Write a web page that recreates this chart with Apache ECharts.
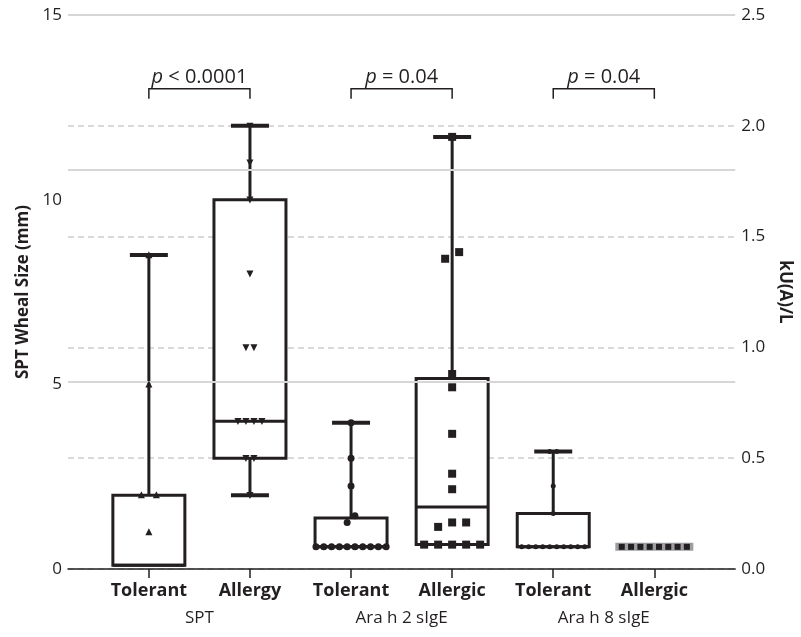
<!DOCTYPE html>
<html lang="en">
<head>
<meta charset="UTF-8">
<title>SPT and sIgE</title>
<script src="https://cdn.jsdelivr.net/npm/echarts@6.0.0/dist/echarts.min.js"></script>
<style>html, body { margin: 0; padding: 0; background: #fff; }</style>
</head>
<body>
<div id="main" style="width:801px;height:637px"></div>
<script>
var categories = ['Tolerant', 'Allergy', 'Tolerant', 'Allergic', 'Tolerant', 'Allergic'];
var groupNames = ['SPT', 'Ara h 2 sIgE', 'Ara h 8 sIgE'];
var pTexts = ['< 0.0001', '= 0.04', '= 0.04'];

// box stats: [min, Q1, median, Q3, max]
var sptTolerantBox = [0.1, 0.1, 0.1, 2, 8.5];
var sptAllergyBox = [2, 3, 4, 10, 12];
var ara2TolerantBox = [0.1, 0.1, 0.1, 0.23, 0.66];
var ara2AllergicBox = [0.11, 0.11, 0.28, 0.86, 1.95];
var ara8TolerantBox = [0.1, 0.1, 0.1, 0.25, 0.53];
var ara8AllergicBox = [0.1, 0.1, 0.1, 0.1, 0.1];

// individual values
var sptTolerantPts = [8.5, 5, 2, 2, 1];
var sptAllergyPts = [12, 11, 10, 8, 6, 6, 4, 4, 4, 4, 3, 3, 2];
var ara2TolerantPts = [0.66, 0.5, 0.375, 0.24, 0.21, 0.1, 0.1, 0.1, 0.1, 0.1, 0.1, 0.1, 0.1, 0.1, 0.1];
var ara2AllergicPts = [1.95, 1.43, 1.4, 0.88, 0.82, 0.61, 0.43, 0.36, 0.21, 0.21, 0.19, 0.11, 0.11, 0.11, 0.11, 0.11];
var ara8TolerantPts = [0.53, 0.53, 0.375, 0.25, 0.1, 0.1, 0.1, 0.1, 0.1, 0.1, 0.1, 0.1, 0.1, 0.1];
var ara8AllergicPts = [0.1, 0.1, 0.1, 0.1, 0.1, 0.1, 0.1, 0.1];

// axes
var mmMax = 15, mmStep = 5;
var kuMax = 2.5, kuStep = 0.5;
var mmSolidLines = [5.07, 10.8, 15];
var bracketLevel = 13;

var ink = '#231f20';
var font = 'Open Sans';

function renderBox(params, api) {
    var x = api.value(0);
    var cx = api.coord([x, 0])[0];
    var p = [1, 2, 3, 4, 5].map(function (d) { return api.coord([x, api.value(d)])[1]; });
    var hw = 36, cw = 19;
    var kids = [];
    if (Math.abs(p[1] - p[3]) < 0.5) {
        // flat box -> grey bar
        kids.push({ type: 'rect', shape: { x: cx - 39, y: p[1] - 4, width: 78, height: 8 }, style: { fill: '#9d9ea2' } });
        return { type: 'group', children: kids };
    }
    if (p[4] < p[3] - 0.5) {
        kids.push({ type: 'line', shape: { x1: cx, y1: p[3], x2: cx, y2: p[4] }, style: { stroke: ink, lineWidth: 3 } });
        kids.push({ type: 'line', shape: { x1: cx - cw, y1: p[4], x2: cx + cw, y2: p[4] }, style: { stroke: ink, lineWidth: 4 } });
    }
    if (p[0] > p[1] + 0.5) {
        kids.push({ type: 'line', shape: { x1: cx, y1: p[1], x2: cx, y2: p[0] }, style: { stroke: ink, lineWidth: 3 } });
        kids.push({ type: 'line', shape: { x1: cx - cw, y1: p[0], x2: cx + cw, y2: p[0] }, style: { stroke: ink, lineWidth: 4 } });
    }
    kids.push({ type: 'rect', shape: { x: cx - hw, y: p[3], width: hw * 2, height: p[1] - p[3] }, style: { fill: '#fff', stroke: ink, lineWidth: 3 } });
    kids.push({ type: 'line', shape: { x1: cx - hw, y1: p[2], x2: cx + hw, y2: p[2] }, style: { stroke: ink, lineWidth: 3 } });
    return { type: 'group', children: kids };
}

function makePointRender(vals, x, shape, size, gap) {
    return function (params, api) {
        var ys = vals.map(function (v) { return api.coord([x, v])[1]; });
        var order = vals.map(function (v, i) { return i; }).sort(function (a, b) { return ys[b] - ys[a]; });
        var off = [];
        var i = 0;
        while (i < order.length) {
            var j = i;
            while (j + 1 < order.length && Math.abs(ys[order[j + 1]] - ys[order[i]]) < size) j++;
            var n = j - i + 1;
            for (var k = 0; k < n; k++) off[order[i + k]] = (k - (n - 1) / 2) * gap;
            i = j + 1;
        }
        var c = api.coord([x, vals[params.dataIndex]]);
        var cx = c[0] + off[params.dataIndex], cy = c[1], s = size;
        var style = { fill: ink };
        if (shape === 'triUp') {
            return { type: 'polygon', shape: { points: [[cx, cy - s * 0.55], [cx - s / 2, cy + s * 0.45], [cx + s / 2, cy + s * 0.45]] }, style: style };
        }
        if (shape === 'triDown') {
            return { type: 'polygon', shape: { points: [[cx, cy + s * 0.55], [cx - s / 2, cy - s * 0.45], [cx + s / 2, cy - s * 0.45]] }, style: style };
        }
        if (shape === 'circle') {
            return { type: 'circle', shape: { cx: cx, cy: cy, r: s / 2 }, style: style };
        }
        return { type: 'rect', shape: { x: cx - s / 2, y: cy - s / 2, width: s, height: s }, style: style };
    };
}

function pointSeries(vals, x, axis, shape, size, gap) {
    return {
        type: 'custom',
        yAxisIndex: axis,
        z: 5,
        silent: true,
        data: vals.map(function (v) { return [x, v]; }),
        encode: { x: 0, y: 1 },
        renderItem: makePointRender(vals, x, shape, size, gap)
    };
}

function boxData(list) {
    return list.map(function (b) { return [b[0]].concat(b[1]); });
}

var myChart = echarts.init(document.getElementById('main'));

var option = {
    animation: false,
    grid: { left: 68, right: 60, top: 15, bottom: 68 },
    xAxis: [
        {
            type: 'value',
            min: -0.8,
            max: 5.8,
            axisLine: { show: true, lineStyle: { color: ink, width: 1.5 } },
            axisTick: { show: true, customValues: [0, 1, 2, 3, 4, 5], length: 9, lineStyle: { color: ink, width: 1.5 } },
            axisLabel: {
                customValues: [0, 1, 2, 3, 4, 5],
                margin: 13,
                color: ink,
                fontFamily: font,
                fontSize: 18,
                fontWeight: 'bold',
                formatter: function (v) { return categories[Math.round(v)]; }
            },
            splitLine: { show: false }
        },
        {
            type: 'value',
            position: 'bottom',
            min: -0.8,
            max: 5.8,
            axisLine: { show: false },
            axisTick: { show: false },
            axisLabel: {
                customValues: [0.5, 2.5, 4.5],
                margin: 41,
                color: ink,
                fontFamily: font,
                fontSize: 17,
                formatter: function (v) { return groupNames[Math.round((v - 0.5) / 2)]; }
            },
            splitLine: { show: false }
        }
    ],
    yAxis: [
        {
            type: 'value',
            min: 0,
            max: mmMax,
            interval: mmStep,
            name: 'SPT Wheal Size (mm)',
            nameLocation: 'middle',
            nameGap: 32,
            nameTextStyle: { color: ink, fontFamily: font, fontSize: 17, fontWeight: 'bold' },
            axisLine: { show: false },
            axisTick: { show: false },
            axisLabel: { color: ink, fontFamily: font, fontSize: 17, margin: 6 },
            splitLine: { show: false }
        },
        {
            type: 'value',
            min: 0,
            max: kuMax,
            interval: kuStep,
            name: 'kU(A)/L',
            nameLocation: 'middle',
            nameGap: 37,
            nameRotate: -90,
            nameTextStyle: { color: ink, fontFamily: font, fontSize: 17, fontWeight: 'bold' },
            axisLine: { show: false },
            axisTick: { show: false },
            axisLabel: { color: ink, fontFamily: font, fontSize: 17, margin: 6, formatter: function (v) { return v.toFixed(1); } },
            splitLine: { show: true, lineStyle: { color: '#cdcdcd', width: 1.5, type: [6, 4] } }
        }
    ],
    series: [
        {
            type: 'custom',
            yAxisIndex: 0,
            z: 1,
            silent: true,
            data: [],
            renderItem: function () { return null; },
            markLine: {
                silent: true,
                symbol: 'none',
                label: { show: false },
                lineStyle: { color: '#d6d6d6', width: 2, type: 'solid' },
                data: mmSolidLines.map(function (v) { return { yAxis: v }; })
            }
        },
        {
            type: 'custom',
            yAxisIndex: 0,
            z: 3,
            silent: true,
            data: boxData([[0, sptTolerantBox], [1, sptAllergyBox]]),
            encode: { x: 0, y: [1, 2, 3, 4, 5] },
            renderItem: renderBox
        },
        {
            type: 'custom',
            yAxisIndex: 1,
            z: 3,
            silent: true,
            data: boxData([[2, ara2TolerantBox], [3, ara2AllergicBox], [4, ara8TolerantBox], [5, ara8AllergicBox]]),
            encode: { x: 0, y: [1, 2, 3, 4, 5] },
            renderItem: renderBox
        },
        pointSeries(sptTolerantPts, 0, 0, 'triUp', 7, 15),
        pointSeries(sptAllergyPts, 1, 0, 'triDown', 7, 8),
        pointSeries(ara2TolerantPts, 2, 1, 'circle', 7, 7.8),
        pointSeries(ara2AllergicPts, 3, 1, 'square', 8, 14),
        pointSeries(ara8TolerantPts, 4, 1, 'circle', 5, 7),
        pointSeries(ara8AllergicPts, 5, 1, 'square', 6, 9.3),
        {
            type: 'custom',
            yAxisIndex: 0,
            z: 6,
            silent: true,
            data: pTexts.map(function (t, i) { return [2 * i, bracketLevel]; }),
            encode: { x: 0, y: 1 },
            renderItem: function (params, api) {
                var i = params.dataIndex;
                var a = api.coord([2 * i, bracketLevel]);
                var b = api.coord([2 * i + 1, bracketLevel]);
                return {
                    type: 'group',
                    children: [
                        {
                            type: 'polyline',
                            shape: { points: [[a[0], a[1] + 10], [a[0], a[1]], [b[0], b[1]], [b[0], b[1] + 10]] },
                            style: { stroke: ink, lineWidth: 1.5, fill: null }
                        },
                        {
                            type: 'text',
                            x: (a[0] + b[0]) / 2,
                            y: a[1] - 2,
                            style: {
                                text: '{i|p} ' + pTexts[i],
                                align: 'center',
                                verticalAlign: 'bottom',
                                fill: ink,
                                fontFamily: font,
                                fontSize: 20,
                                rich: { i: { fontStyle: 'italic', fontFamily: font, fontSize: 20, fill: ink } }
                            }
                        }
                    ]
                };
            }
        }
    ]
};

myChart.setOption(option);
</script>
</body>
</html>
